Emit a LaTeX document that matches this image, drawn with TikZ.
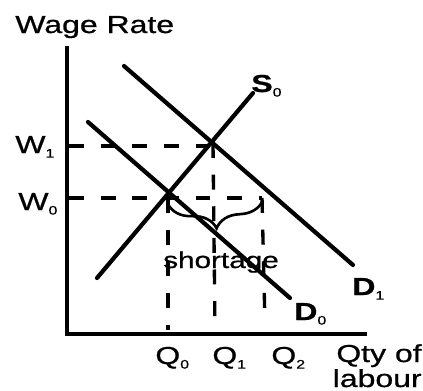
\documentclass[tikz,border=0pt]{standalone}
\usepackage{fontspec}
\setmainfont{Liberation Sans}
\newfontfamily\hvy[FakeBold=0.7]{Liberation Sans}
\usetikzlibrary{decorations.pathreplacing}
\newcommand\sx[1]{\scalebox{1.3}[1]{#1}}
\newcommand\sbs[1]{\raisebox{-0.35ex}{\fontsize{7}{7}\selectfont #1}}
\tikzset{
  curve/.style={line width=2.4pt, line cap=round},
  axis/.style={line width=2.8pt},
  guide/.style={line width=1.9pt, dash pattern=on 8.5pt off 9.5pt},
  lab/.style={font=\fontsize{14}{16}\hvy, inner sep=0pt},
}
\begin{document}
\begin{tikzpicture}[x=0.02cm, y=-0.02cm]
\useasboundingbox (0,0) rectangle (423,390);
% axes
\coordinate (O) at (67,334);
\coordinate (Ytop) at (67,46);
\coordinate (Xend) at (367,334);
\draw[axis] (Ytop) -- (O) -- (Xend);
% equilibrium points
\coordinate (E0) at (168,196);
\coordinate (E1) at (213,143);
\coordinate (W1) at (69,146);
\coordinate (W0) at (69,198);
\coordinate (X1) at (213,146);
\coordinate (X0) at (168,198);
\coordinate (X2) at (262,198);
\coordinate (B0) at (168,330);
\coordinate (B1) at (215,332);
\coordinate (B2) at (265,324);
% guides
\draw[guide] (W1) -- (X1);
\draw[guide] (W0) -- (X2);
\draw[guide] (X0) -- (B0);
\draw[guide] (E1) -- (B1);
\draw[guide] (X2) -- (B2);
% brace
\draw[line width=1.5pt, decorate, decoration={brace, mirror, amplitude=15pt}] (168,204) -- (263,200);
% curves
\coordinate (S0a) at (97,278);
\coordinate (S0b) at (253,93);
\coordinate (D0a) at (88,122);
\coordinate (D0b) at (290,298);
\coordinate (D1a) at (124,66);
\coordinate (D1b) at (353,265);
\draw[curve] (S0a) -- (S0b);
\draw[curve] (D0a) -- (D0b);
\draw[curve] (D1a) -- (D1b);
% labels
\node[lab, anchor=base west] (wr) at (15,33) {\sx{Wage Rate}};
\node[lab, anchor=base west] (w1) at (15,153) {\sx{W\sbs{1}}};
\node[lab, anchor=base west] (w0) at (18,210) {\sx{W\sbs{0}}};
\node[lab, anchor=base west] (q0) at (155,364) {\sx{Q\sbs{0}}};
\node[lab, anchor=base west] (q1) at (212,364) {\sx{Q\sbs{1}}};
\node[lab, anchor=base west] (q2) at (271,364) {\sx{Q\sbs{2}}};
\node[lab, anchor=base east] (qty) at (422,362) {\sx{Qty of}};
\node[lab, anchor=base east] (lab) at (422,387) {\sx{labour}};
\node[lab, anchor=base west] (s0) at (251,92) {\sx{\textbf{S}\sbs{0}}};
\node[lab, anchor=base west] (d0) at (294,320) {\sx{\textbf{D}\sbs{0}}};
\node[lab, anchor=base west] (d1) at (352,295) {\sx{\textbf{D}\sbs{1}}};
\node[lab, font=\fontsize{13}{15}\hvy, anchor=base] (sh) at (221,268) {\sx{shortage}};
\end{tikzpicture}
\end{document}
